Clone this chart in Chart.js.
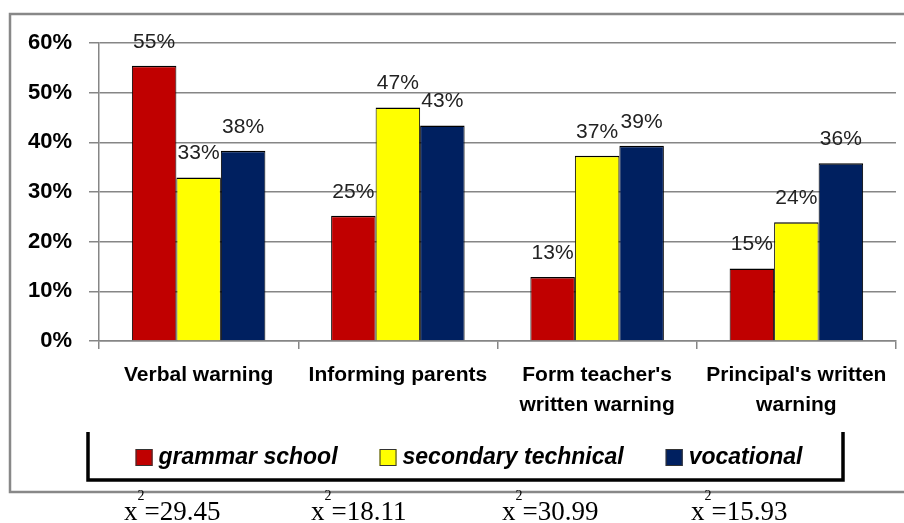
<!DOCTYPE html>
<html>
<head>
<meta charset="utf-8">
<script src="https://cdn.jsdelivr.net/npm/chart.js@4.4.1/dist/chart.umd.min.js"></script>
<style>
  html, body { margin: 0; padding: 0; background: #fff; }
  canvas { display: block; }
</style>
</head>
<body>
<canvas id="myChart" width="904" height="523"></canvas>
<script>
// values, in percent
const categories = [
  'Verbal warning',
  'Informing parents',
  ["Form teacher's", 'written warning'],
  ["Principal's written", 'warning'],
];
const grammarSchool = [55.4, 25.2, 12.9, 14.6];
const secondaryTechnical = [32.9, 47.0, 37.3, 23.9];
const vocational = [38.3, 43.4, 39.3, 35.8];
const yTicks = [0, 10, 20, 30, 40, 50, 60];
const chiSquare = ['29.45', '18.11', '30.99', '15.93'];

const SANS = '"Liberation Sans", Arial, sans-serif';
const SERIF = '"Liberation Serif", "Times New Roman", serif';
const GRID = '#868686';

// grey frame round the chart (no right edge, it runs off the picture)
const framePlugin = {
  id: 'frame',
  beforeDraw(chart) {
    const ctx = chart.ctx;
    ctx.save();
    ctx.strokeStyle = '#888';
    ctx.lineWidth = 2.5;
    ctx.beginPath();
    ctx.moveTo(904, 14);
    ctx.lineTo(10, 14);
    ctx.lineTo(10, 492);
    ctx.lineTo(904, 492);
    ctx.stroke();
    ctx.restore();
  },
};

// "55%" etc above each bar
const valueLabels = {
  id: 'valueLabels',
  afterDatasetsDraw(chart) {
    const ctx = chart.ctx;
    ctx.save();
    ctx.font = '21px ' + SANS;
    ctx.fillStyle = '#222';
    ctx.textAlign = 'center';
    ctx.textBaseline = 'middle';
    chart.data.datasets.forEach((ds, i) => {
      chart.getDatasetMeta(i).data.forEach((bar, j) => {
        ctx.fillText(Math.round(ds.data[j]) + '%', bar.x, bar.y - 24);
      });
    });
    ctx.restore();
  },
};

// legend in an open-topped black box
const legendBox = {
  id: 'legendBox',
  afterDraw(chart) {
    const ctx = chart.ctx;
    ctx.save();
    ctx.strokeStyle = '#000';
    ctx.lineWidth = 3.5;
    ctx.beginPath();
    ctx.moveTo(88, 432);
    ctx.lineTo(88, 480);
    ctx.lineTo(843, 480);
    ctx.lineTo(843, 432);
    ctx.stroke();

    ctx.font = 'italic bold 23px ' + SANS;
    ctx.textBaseline = 'middle';
    const box = 17, gap = 6, between = 42;
    const items = chart.data.datasets.map(ds => ({
      label: ds.label,
      color: ds.backgroundColor,
      w: ctx.measureText(ds.label).width,
    }));
    const total = items.reduce((s, it) => s + box + gap + it.w, 0) + between * (items.length - 1);
    let x = 469 - total / 2;
    const y = 457;
    items.forEach(it => {
      ctx.fillStyle = it.color;
      ctx.fillRect(x, y - 8, box, box);
      ctx.lineWidth = 1;
      ctx.strokeStyle = '#333';
      ctx.strokeRect(x + 0.5, y - 7.5, box - 1, box - 1);
      ctx.fillStyle = '#000';
      ctx.textAlign = 'left';
      ctx.fillText(it.label, x + box + gap, y + 1);
      x += box + gap + it.w + between;
    });
    ctx.restore();
  },
};

// chi-square values under the frame
const chiLabels = {
  id: 'chiLabels',
  afterDraw(chart) {
    const ctx = chart.ctx;
    ctx.save();
    ctx.fillStyle = '#000';
    ctx.textBaseline = 'alphabetic';
    ctx.textAlign = 'left';
    const starts = [124, 311, 502, 691];
    chiSquare.forEach((v, i) => {
      let x = starts[i];
      ctx.font = '27px ' + SERIF;
      ctx.fillText('x', x, 520);
      x += ctx.measureText('x').width;
      ctx.font = '14px ' + SERIF;
      ctx.fillText('2', x, 500);
      x += ctx.measureText('2').width;
      ctx.font = '27px ' + SERIF;
      ctx.fillText('=' + v, x, 520);
    });
    ctx.restore();
  },
};

const data = {
  labels: categories,
  datasets: [
    { label: 'grammar school', data: grammarSchool, backgroundColor: '#C00000' },
    { label: 'secondary technical', data: secondaryTechnical, backgroundColor: '#FFFF00' },
    { label: 'vocational', data: vocational, backgroundColor: '#002060' },
  ].map(ds => ({
    ...ds,
    borderColor: '#000',
    borderWidth: { top: 1.5, left: 1, right: 1, bottom: 0 },
    categoryPercentage: 0.67,
    barPercentage: 1,
  })),
};

const options = {
  responsive: false,
  devicePixelRatio: 1,
  animation: false,
  layout: { padding: { left: 0, top: 43, right: 8, bottom: 0 } },
  scales: {
    x: {
      afterFit(scale) { scale.height = 182; },
      grid: {
        drawOnChartArea: false,
        drawTicks: true,
        tickLength: 8,
        color: GRID,
        lineWidth: 1.5,
      },
      border: { display: true, color: GRID, width: 1.5 },
      ticks: {
        color: '#000',
        padding: 11,
        maxRotation: 0,
        autoSkip: false,
        font: { family: SANS, size: 21, weight: 'bold', lineHeight: 1.43 },
      },
    },
    y: {
      min: 0,
      max: 60,
      afterFit(scale) { scale.width = 99; },
      afterBuildTicks(scale) { scale.ticks = yTicks.map(v => ({ value: v })); },
      grid: {
        color: GRID,
        lineWidth: 1.5,
        tickLength: 10,
      },
      border: { display: true, color: GRID, width: 1.5 },
      ticks: {
        color: '#000',
        padding: 17,
        callback: v => v + '%',
        font: { family: SANS, size: 22, weight: 'bold' },
      },
    },
  },
  plugins: {
    legend: { display: false },
    tooltip: { enabled: false },
  },
};

new Chart('myChart', {
  type: 'bar',
  data: data,
  options: options,
  plugins: [framePlugin, valueLabels, legendBox, chiLabels],
});
</script>
</body>
</html>
